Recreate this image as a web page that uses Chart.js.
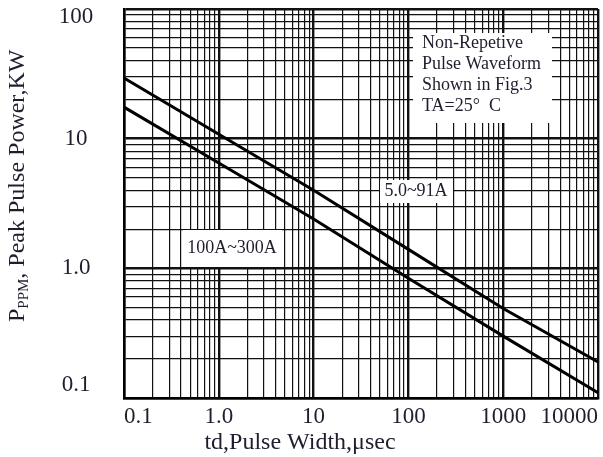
<!DOCTYPE html>
<html>
<head>
<meta charset="utf-8">
<script src="https://cdn.jsdelivr.net/npm/chart.js@4.4.1/dist/chart.umd.min.js"></script>
<style>
  html, body { margin: 0; padding: 0; background: #fff; overflow: hidden; }
  #wrap { width: 603px; height: 457px; position: relative; }
</style>
</head>
<body>
<div id="wrap"><canvas id="pulseChart"></canvas></div>
<script>
// pulse width (usec) and peak pulse power (kW)
const pulseWidth = [0.1, 1, 10, 100, 1000, 10000];
const power5to91A = [29.4, 10.8, 4.0, 1.4, 0.49, 0.19];
const power100to300A = [17.5, 6.5, 2.4, 0.84, 0.3, 0.11];

const xTickValues = [0.1, 1, 10, 100, 1000, 10000];
const xTickLabels = ['0.1', '1.0', '10', '100', '1000', '10000'];
const yTickValues = [0.1, 1, 10, 100];
const yTickLabels = ['0.1', '1.0', '10', '100'];

const seriesNames = ['5.0~91A', '100A~300A'];
const noteLines = ['Non-Repetive', 'Pulse Waveform', 'Shown in Fig.3', 'TA=25\u00B0  C'];
const xTitle = 'td,Pulse Width,\u03BCsec';

const SERIF = '"Liberation Serif", "Times New Roman", serif';
const TEXT = '#1e1e2e';

// 1..9 per decade, so every minor grid line shows
function logGridTicks(min, max) {
    const ticks = [];
    for (let e = Math.floor(Math.log10(min)); e <= Math.ceil(Math.log10(max)); e++) {
        for (let m = 1; m <= 9; m++) {
            const v = parseFloat((m * Math.pow(10, e)).toPrecision(6));
            if (v >= min * 0.999 && v <= max * 1.001) ticks.push({ value: v });
        }
    }
    return ticks;
}

const isDecade = v => Math.abs(Math.log10(v) - Math.round(Math.log10(v))) < 1e-6;

function gridOpts() {
    return {
        color: '#111',
        lineWidth: c => (c.tick && isDecade(c.tick.value)) ? 2.4 : 1.2,
        drawTicks: false
    };
}

function toPoints(ys) {
    return pulseWidth.map((x, i) => ({ x: x, y: ys[i] }));
}

const decorPlugin = {
    id: 'decor',
    beforeDatasetsDraw(chart) {
        const ctx = chart.ctx;
        ctx.save();
        ctx.fillStyle = '#fff';
        ctx.fillRect(413, 33, 139, 90);
        ctx.fillRect(380, 180, 73, 23);
        ctx.fillRect(183, 230, 99, 37);

        ctx.fillStyle = TEXT;
        ctx.font = '18px ' + SERIF;
        ctx.textBaseline = 'middle';
        ctx.textAlign = 'left';
        noteLines.forEach((t, i) => ctx.fillText(t, 422, 43 + i * 21));

        ctx.textAlign = 'center';
        ctx.fillText(seriesNames[0], 416, 191);
        ctx.fillText(seriesNames[1], 232, 248);
        ctx.restore();
    },
    afterDraw(chart) {
        const ctx = chart.ctx;
        const a = chart.chartArea;
        const yScale = chart.scales.y;
        ctx.save();
        ctx.fillStyle = TEXT;

        // y tick labels, kept inside the plot height like the original
        ctx.font = '23px ' + SERIF;
        ctx.textAlign = 'center';
        ctx.textBaseline = 'middle';
        yTickValues.forEach((v, i) => {
            let py = yScale.getPixelForValue(v);
            py = Math.min(Math.max(py, a.top + 8), a.bottom - 13);
            ctx.fillText(yTickLabels[i], 76, py);
        });

        // x axis title
        ctx.font = '24px ' + SERIF;
        ctx.fillText(xTitle, 300, 443);

        // y axis title with subscript
        ctx.translate(18, 322);
        ctx.rotate(-Math.PI / 2);
        ctx.textAlign = 'left';
        ctx.font = '24px ' + SERIF;
        ctx.fillText('P', 0, 0);
        let w = ctx.measureText('P').width;
        ctx.font = '15px ' + SERIF;
        ctx.fillText('PPM', w, 6);
        w += ctx.measureText('PPM').width;
        ctx.font = '24px ' + SERIF;
        ctx.fillText(', Peak Pulse Power,KW', w, 0);
        ctx.restore();
    }
};

function createPulseChart() {
    const ctx = document.getElementById('pulseChart');

    new Chart(ctx, {
        type: 'line',
        data: {
            datasets: [{
                label: seriesNames[0],
                data: toPoints(power5to91A),
                borderColor: '#000',
                borderWidth: 3,
                pointRadius: 0,
                fill: false
            }, {
                label: seriesNames[1],
                data: toPoints(power100to300A),
                borderColor: '#000',
                borderWidth: 3,
                pointRadius: 0,
                fill: false
            }]
        },
        options: {
            responsive: true,
            maintainAspectRatio: false,
            animation: false,
            layout: { padding: { top: 9, right: 0, left: 0, bottom: 0 } },
            scales: {
                x: {
                    type: 'logarithmic',
                    min: 0.1,
                    max: 10000,
                    afterBuildTicks: s => { s.ticks = logGridTicks(0.1, 10000); },
                    afterFit: s => { s.height = 59; },
                    grid: gridOpts(),
                    border: { display: true, color: '#000', width: 2.5 },
                    ticks: {
                        autoSkip: false,
                        maxRotation: 0,
                        align: 'inner',
                        padding: 5,
                        color: TEXT,
                        font: { family: SERIF, size: 23 },
                        callback: v => {
                            const i = xTickValues.findIndex(t => Math.abs(t - v) < t * 1e-6);
                            return i >= 0 ? xTickLabels[i] : '';
                        }
                    }
                },
                y: {
                    type: 'logarithmic',
                    min: 0.1,
                    max: 100,
                    afterBuildTicks: s => { s.ticks = logGridTicks(0.1, 100); },
                    afterFit: s => { s.width = 124; },
                    grid: gridOpts(),
                    border: { display: true, color: '#000', width: 2.5 },
                    ticks: { display: false }
                }
            },
            plugins: {
                legend: { display: false },
                tooltip: { enabled: false }
            }
        },
        plugins: [decorPlugin]
    });
}

document.addEventListener('DOMContentLoaded', () => {
    createPulseChart();
});
</script>
</body>
</html>
